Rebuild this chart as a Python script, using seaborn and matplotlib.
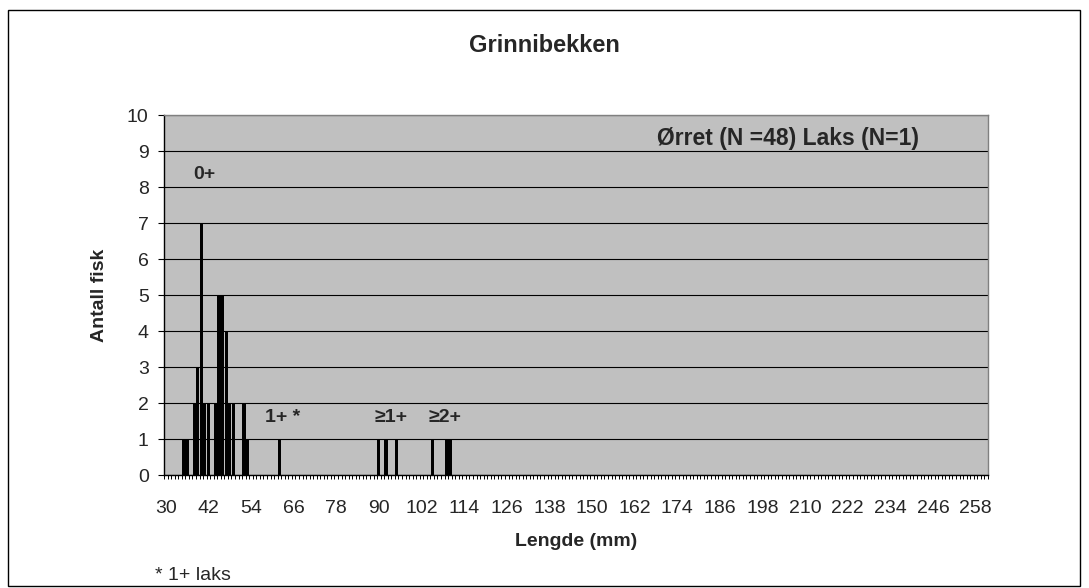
import matplotlib
matplotlib.use('Agg')
import matplotlib.pyplot as plt
import matplotlib.patches as mpatches
import numpy as np
import pandas as pd
import seaborn as sns

# length classes on the category axis (mm)
lengde_fra = 30
lengde_til = 261
# lengths with fish, and number of fish in each
lengde_mm = [35, 36, 38, 39, 40, 41, 42, 44, 45, 46, 47, 48, 49, 52, 53,
             62, 90, 92, 95, 105, 109, 110]
antall = [1, 1, 2, 3, 7, 2, 2, 2, 5, 5, 4, 2, 2, 2, 1,
          1, 1, 1, 1, 1, 1, 1]
tick_step = 12

kategorier = list(range(lengde_fra, lengde_til + 1))
d = pd.Series(antall, index=lengde_mm).reindex(kategorier, fill_value=0)
d = pd.DataFrame({'Lengde': [str(k) for k in kategorier], 'n': d.values})

sns.set_theme(style='white')
plt.rcParams['font.family'] = ['Liberation Sans', 'DejaVu Sans']

fig = plt.figure(figsize=(10.89, 5.88), dpi=100)
ax = fig.add_axes([164 / 1089, 1 - 475 / 588, 824 / 1089, 360 / 588])

sns.barplot(d, x='Lengde', y='n', order=d['Lengde'], color='black',
            saturation=1, width=0.9, linewidth=0, ax=ax)

ax.set_facecolor('#c0c0c0')
ax.set_ylim(0, 10)
ax.set_xlim(-0.5, len(kategorier) - 0.5)
ax.set_yticks(range(0, 11))
ax.yaxis.grid(True, color='black', linewidth=0.8)
ax.set_axisbelow(True)

ax.set_xticks(range(0, len(kategorier), tick_step))
ax.set_xticklabels([str(k) for k in kategorier[::tick_step]])
ax.set_xticks(np.arange(-0.5, len(kategorier), 1), minor=True)
ax.tick_params(axis='x', which='major', length=0, pad=18, labelsize=14)
ax.tick_params(axis='x', which='minor', length=3, width=0.7,
               direction='out', color='black', bottom=True)
ax.tick_params(axis='y', which='major', length=4, width=0.8,
               direction='out', color='black', pad=7, labelsize=14, left=True)

for s in ['left', 'bottom']:
    ax.spines[s].set_color('black')
    ax.spines[s].set_linewidth(1)
for s in ['top', 'right']:
    ax.spines[s].set_color('#808080')
    ax.spines[s].set_linewidth(1)

ax.set_xlabel('Lengde (mm)', fontsize=14, fontweight='bold')
ax.xaxis.set_label_coords(0.5, -0.16)
ax.set_ylabel('Antall fisk', fontsize=14, fontweight='bold')
ax.yaxis.set_label_coords(-0.068, 0.5)

fig.text(0.5, 1 - 46 / 588, 'Grinnibekken', ha='center', va='center',
         fontsize=17, fontweight='bold')

ax.text(10.8, 8.35, '0+', ha='center', va='center', fontsize=14, fontweight='bold')
ax.text(33.0, 1.6, '1+ *', ha='center', va='center', fontsize=14, fontweight='bold')
ax.text(63.4, 1.6, '≥1+', ha='center', va='center', fontsize=14, fontweight='bold')
ax.text(78.5, 1.6, '≥2+', ha='center', va='center', fontsize=14, fontweight='bold')
ax.text(175.1, 9.35, 'Ørret (N =48) Laks (N=1)', ha='center', va='center',
        fontsize=16.5, fontweight='bold')

fig.text(155 / 1089, 1 - 575 / 588, '* 1+ laks', ha='left', va='center', fontsize=14)

fig.patches.append(mpatches.Rectangle((8 / 1089, 1 - 586 / 588), 1072 / 1089, 576 / 588,
                                      transform=fig.transFigure, fill=False,
                                      edgecolor='black', linewidth=1))

plt.savefig('out.png', dpi=100)
